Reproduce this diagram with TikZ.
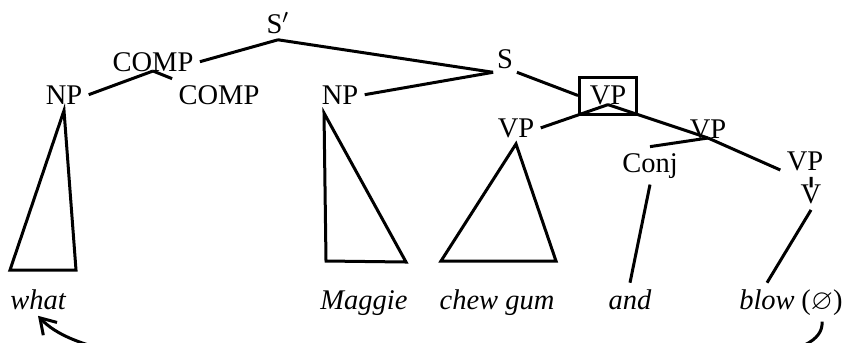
\documentclass[tikz,border=0pt]{standalone}
\usepackage{amssymb}
\usepackage{fontspec}
\setmainfont{Liberation Serif}
\usetikzlibrary{arrows.meta, calc}

\begin{document}
\begin{tikzpicture}[
  x=0.4pt, y=-0.4pt,
  font=\fontsize{11.4}{13}\selectfont,
  line width=1.2pt,
  cat/.style={inner sep=2pt, anchor=base},
  word/.style={inner sep=2pt, anchor=base, font=\fontsize{11.4}{13}\selectfont\itshape},
  headbox/.style={draw, inner sep=0pt, minimum width=22.8pt, minimum height=14.8pt},
  arr/.style={-{Straight Barb[length=6pt, width=7.5pt]}}
]
\useasboundingbox (0,0) rectangle (850,342);
\clip (0,0) rectangle (850,342);

% categories
\node[cat] (sbar) at (278,33) {S$'$};
\node[cat] (compu) at (153,71) {COMP};
\node[cat] (npl) at (64,104) {NP};
\node[cat] (compl) at (219,104) {COMP};
\node[cat] (npm) at (340,104) {NP};
\node[cat, inner sep=1pt] (s) at (505,68) {S};
\node[headbox] (vph) at (608,95.5) {VP\hspace{1.6pt}};
\node[cat] (vpl) at (516,137) {VP};
\node[cat] (vpm) at (708,138) {VP};
\node[cat] (conj) at (650,172) {Conj};
\node[cat] (vpr) at (805,170) {VP};
\node[cat] (v) at (811,203) {V};

% words
\node[word] (what) at (38,309) {what};
\node[word] (maggie) at (364,309) {Maggie};
\node[word] (chew) at (497,309) {chew gum};
\node[word] (and) at (630,309) {and};
\node[word] (blow) at (767,309) {blow};
\node[cat] (gap) at (822,309) {($\varnothing$)};

\draw (sbar.south) -- (compu.east);
\draw (sbar.south) -- (s.south west);
\draw (npm.east) -- (s.south west);
\draw (s.south east) -- (vph.west);
\draw (compu.base) -- (npl.east);
\draw (compu.base) -- (compl.north west);
\draw (vph.base) -- (vpl.east);
\draw (vph.base) -- (vpm.base);
\draw (vpm.base) -- (conj.north);
\draw (vpm.base) -- (vpr.base west);
\draw (vpr.south -| v) -- ($(v.center)!0.4!(v.north)$);
\draw (v.south) -- (blow.north);
\draw (conj.south) -- (and.north);

% triangles
\draw (npl.south) -- (76,270) -- (10,270) -- cycle;
\draw (324,113) -- (326,261) -- (406,262) -- cycle;
\draw (vpl.south) -- (556,261) -- (441,261) -- cycle;

% movement
\draw[arr] (gap.south) .. controls (825,359) and (730,372) .. (430,372)
  .. controls (150,372) and (69,349) .. (what.south);
\end{tikzpicture}
\end{document}
